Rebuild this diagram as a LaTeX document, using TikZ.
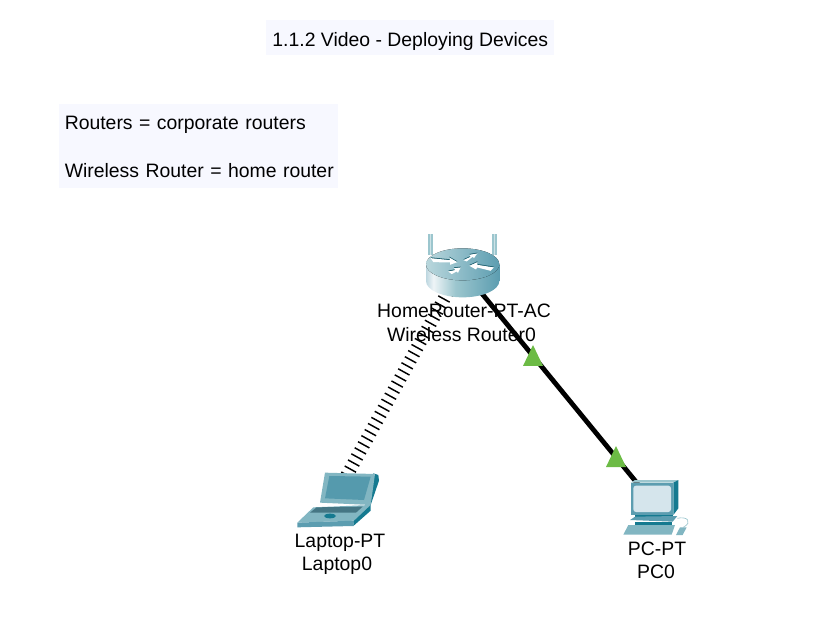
\documentclass[tikz,border=0pt]{standalone}
\usepackage{fontspec}
\setmainfont{Liberation Sans}
\usetikzlibrary{calc}
\definecolor{noteFill}{HTML}{F7F8FF}
\definecolor{lightGreen}{HTML}{6CBB45}
\definecolor{iconLight}{HTML}{9CC6CE}
\definecolor{iconMid}{HTML}{5C9DB0}
\definecolor{iconDark}{HTML}{157A90}
\definecolor{iconPale}{HTML}{D5E5EC}
\pgfdeclarehorizontalshading{routerSide}{100bp}{
    color(0bp)=(iconMid!90!black);
    color(15bp)=(iconMid);
    color(30bp)=(iconPale!40!white);
    color(45bp)=(iconLight);
    color(75bp)=(iconMid);
    color(100bp)=(iconDark)
}
\tikzset{
    deviceText/.style={font=\fontsize{14.55pt}{18pt}\selectfont, inner sep=0pt, anchor=base},
    noteBox/.style={deviceText, fill=noteFill, anchor=north west, align=left, inner sep=0pt},
    wiredLink/.style={line width=3.6pt},
    airLink/.style={line width=9.75pt, dash pattern=on 1.1pt off 4.1pt}
}
\newcommand{\routerArrow}[1]{
    \fill[iconDark!70!black] #1 -- cycle;
    \fill[white, yshift=-0.6pt] #1 -- cycle;
}
\newcommand{\drawRouter}{
    \begin{scope}[shift={(400,220)}, x=0.25pt, y=-0.25pt]
        \foreach \a in {92,283}{
            \fill[iconLight] (\a-7,43) rectangle (\a+7,105);
            \fill[white,opacity=0.5] (\a-2,43) rectangle (\a+2,105);
        }
        \shade[shading=routerSide] (78,133) -- (78,183) arc[start angle=180, end angle=0, x radius=110, y radius=49] -- (298,133) -- cycle;
        \fill[left color=iconLight!70!white, right color=iconMid] (188,133) ellipse[x radius=110, y radius=48];
        \routerArrow{(92,112) -- (150,118) -- (148,110) -- (172,124) -- (150,132) -- (150,125) -- (100,124)}
        \routerArrow{(190,118) -- (212,108) -- (208,102) -- (232,98) -- (222,112) -- (218,108) -- (200,122)}
        \routerArrow{(208,135) -- (232,124) -- (232,132) -- (282,140) -- (272,150) -- (232,140) -- (228,146)}
        \routerArrow{(145,152) -- (165,148) -- (162,142) -- (182,140) -- (174,156) -- (170,152) -- (155,160)}
    \end{scope}
}
\newcommand{\drawLaptop}{
    \begin{scope}[shift={(280,450)}, x=0.25pt, y=-0.25pt]
        \fill[iconDark] (280,70) -- (295,75) -- (297,92) -- (272,165) -- (262,165) -- cycle;
        \fill[iconLight!60!iconMid] (135,68) -- (285,72) -- (272,165) -- (120,158) -- cycle;
        \fill[iconMid!90!iconDark] (148,78) -- (272,80) -- (252,150) -- (135,145) -- cycle;
        \fill[iconLight!60!iconMid] (52,218) -- (100,172) -- (272,165) -- (222,212) -- cycle;
        \fill[iconMid!75!black] (90,188) -- (110,172) -- (248,170) -- (228,188) -- cycle;
        \fill[iconMid] (52,218) -- (222,212) -- (220,228) -- (52,232) -- cycle;
        \fill[iconDark] (222,212) -- (272,165) -- (272,182) -- (220,228) -- cycle;
        \fill[iconDark] (150,198) ellipse[x radius=18, y radius=7];
    \end{scope}
}
\newcommand{\drawPC}{
    \begin{scope}[shift={(590,440)}, x=0.25pt, y=-0.25pt]
        \draw[iconLight, line width=0.5pt] (262,235) .. controls (290,228) and (310,245) .. (280,262);
        \fill[iconMid] (122,128) rectangle (250,225);
        \fill[iconLight] (122,128) -- (135,120) -- (265,120) -- (250,128) -- cycle;
        \fill[iconDark] (250,128) -- (265,120) -- (265,205) -- (250,225) -- cycle;
        \fill[iconPale, rounded corners=2pt] (130,137) rectangle (243,216);
        \fill[iconDark] (135,225) rectangle (250,232);
        \fill[iconMid] (120,240) -- (135,230) -- (262,228) -- (248,245) -- cycle;
        \fill[iconDark] (135,245) rectangle (245,255);
        \fill[iconLight!60!iconMid] (100,284) -- (115,255) -- (255,255) -- (245,284) -- cycle;
        \fill[iconLight!60!iconMid] (258,285) -- (270,262) -- (290,262) -- (278,285) -- cycle;
    \end{scope}
}
\newcommand{\drawLight}[1]{
    \fill[lightGreen] (#1) ++(0,-11) -- ++(10,21) -- ++(-20,0) -- cycle;
}

\begin{document}
\begin{tikzpicture}[x=0.75pt, y=-0.75pt]
    \useasboundingbox (0,0) rectangle (840,631);

    \coordinate (router) at (461,268);
    \coordinate (laptop) at (335,497);
    \coordinate (pc) at (655,505);
    \coordinate (lightRouter) at (533,356);
    \coordinate (lightPC) at (616,457);

    \draw[airLink] (router) -- (laptop);
    \draw[wiredLink] (router) -- (pc);

    \drawRouter
    \drawLaptop
    \drawPC

    \drawLight{lightRouter}
    \drawLight{lightPC}

    \node[noteBox, minimum width=216pt, align=center, text height=19.5pt, text depth=6.75pt] (title) at (266,20) {1.1.2 Video - Deploying Devices};
    \node[noteBox, minimum width=209.25pt, text width=201pt] (note) at (59,104) {\rule{0pt}{18.75pt}\mbox{Routers = corporate routers}\\ \mbox{}\\ \mbox{Wireless Router = home router}\rule[-8.25pt]{0pt}{8.25pt}};

    \node[deviceText] (routerModel) at (464,318) {HomeRouter-PT-AC};
    \node[deviceText] (routerName) at (461.5,342) {Wireless Router0};
    \node[deviceText] (laptopModel) at (340,547) {Laptop-PT};
    \node[deviceText] (laptopName) at (337,570) {Laptop0};
    \node[deviceText] (pcModel) at (657,555) {PC-PT};
    \node[deviceText] (pcName) at (656,578) {PC0};
\end{tikzpicture}
\end{document}
